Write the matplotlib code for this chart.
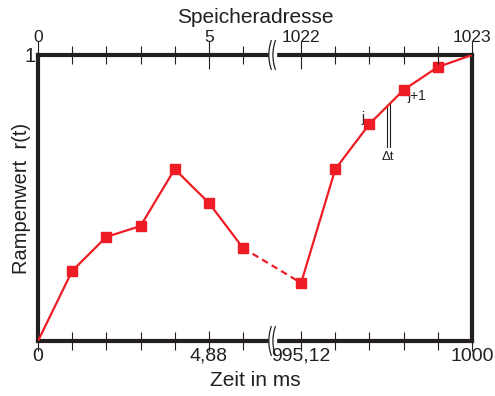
import matplotlib
matplotlib.use("Agg")
import matplotlib.pyplot as plt
import numpy as np

plt.rcParams['font.family'] = ['Liberation Sans', 'DejaVu Sans']

# Data: sample position (index with axis break) and ramp values
x_pos = [0, 1, 2, 3, 4, 5, 6, 7.7, 8.7, 9.7, 10.7, 11.7, 12.7]
r_vals = [0.0, 0.245, 0.364, 0.402, 0.601, 0.483, 0.325, 0.203, 0.601, 0.759, 0.878, 0.958, 1.0]
top_tick_labels = ['0', '5', '1022', '1023']
bottom_tick_labels = ['0', '4,88', '995,12', '1000']
major_idx = [0, 5, 7, 12]

RED = '#ee1c25'
DARK = '#231f20'

fig = plt.figure(figsize=(4.95, 3.96), dpi=100)
ax = fig.add_axes([38/495, 1-341/396, (472-38)/495, (341-55)/396])
ax.set_xlim(0, 12.7)
ax.set_ylim(0, 1)

ax.plot(x_pos[:7], r_vals[:7], color=RED, lw=1.6, zorder=3)
ax.plot(x_pos[6:8], r_vals[6:8], color=RED, lw=1.6, ls=(0, (3, 2)), zorder=3)
ax.plot(x_pos[7:], r_vals[7:], color=RED, lw=1.6, zorder=3)
ax.plot(x_pos[1:-1], r_vals[1:-1], ls='none', marker='s', ms=7.5, color=RED, zorder=4)

for s in ax.spines.values():
    s.set_linewidth(3)
    s.set_color(DARK)

minor_pos = [p for i, p in enumerate(x_pos) if i not in major_idx]
major_pos = [x_pos[i] for i in major_idx]

# bottom axis
ax.set_xticks(major_pos)
ax.set_xticklabels(bottom_tick_labels, fontsize=14)
ax.set_xticks(minor_pos, minor=True)
ax.tick_params(axis='x', which='major', direction='inout', length=14, width=0.8, color=DARK, pad=-2, labelcolor=DARK)
ax.tick_params(axis='x', which='minor', direction='inout', length=13, width=0.8, color=DARK)
ax.set_yticks([1])
ax.set_yticklabels(['1'], fontsize=14.5)
ax.tick_params(axis='y', length=0, pad=2, labelcolor=DARK)

# top axis
ax2 = ax.twiny()
ax2.set_xlim(ax.get_xlim())
ax2.set_xticks(major_pos)
ax2.set_xticklabels(top_tick_labels, fontsize=12.5)
ax2.set_xticks(minor_pos, minor=True)
ax2.tick_params(axis='x', which='major', direction='inout', length=20, width=0.8, color=DARK, pad=-3, labelcolor=DARK)
ax2.tick_params(axis='x', which='minor', direction='inout', length=13, width=0.8, color=DARK)
for s in ax2.spines.values():
    s.set_visible(False)

ax.set_xlabel('Zeit in ms', fontsize=15, color=DARK, labelpad=4)
ax2.set_xlabel('Speicheradresse', fontsize=15, color=DARK, labelpad=5)
ax.set_ylabel('Rampenwert  r(t)', fontsize=14.5, color=DARK)
ax.yaxis.set_label_coords(-0.016, 0.5)

# axis break marks
xb = 6.85
t = np.linspace(-1, 1, 30)
for yy in (0, 1):
    ax.add_patch(plt.Rectangle((xb - 0.1, yy - 0.02), 0.2, 0.04, color='white', zorder=5, clip_on=False))
    for dx in (-0.06, 0.06):
        ax.plot(xb + dx + 0.07 * t ** 2 - 0.035, yy + 0.05 * t, color=DARK, lw=0.9, zorder=6, clip_on=False)

# delta t annotation
for xv in (10.2, 10.3):
    yline = np.interp(xv, x_pos, r_vals)
    ax.plot([xv, xv], [0.68, yline], color=DARK, lw=0.8, zorder=2)
ax.text(10.25, 0.665, 'Δt', fontsize=9.5, ha='center', va='top', color=DARK)
ax.text(9.7 - 0.15, 0.78, 'j', fontsize=10, ha='right', va='center', color=DARK)
ax.text(10.7 + 0.12, 0.855, 'j+1', fontsize=10, ha='left', va='center', color=DARK)

fig.savefig('out.png', dpi=100)
